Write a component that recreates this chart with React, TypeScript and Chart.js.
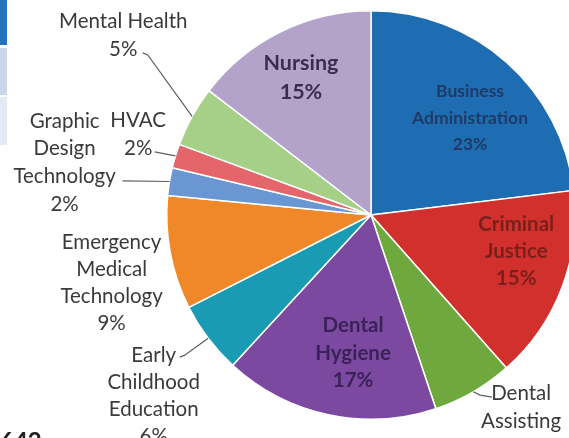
import React, { useEffect, useRef } from "react";
import { Chart, registerables } from "chart.js";

Chart.register(...registerables);

const categories = [
  "Business Administration",
  "Criminal Justice",
  "Dental Assisting",
  "Dental Hygiene",
  "Early Childhood Education",
  "Emergency Medical Technology",
  "Graphic Design Technology",
  "HVAC",
  "Mental Health",
  "Nursing",
];

const shares = [23.1, 15.4, 6.4, 17.0, 5.7, 9.0, 2.2, 1.9, 4.8, 14.6];

const sliceColors = [
  "#1E6DB3",
  "#D2302C",
  "#6FA83C",
  "#7B4AA0",
  "#1A9BB4",
  "#F0882A",
  "#6A97D4",
  "#E4666A",
  "#A6CF88",
  "#B3A2C9",
];

// label layout: block centre and leader points in units of the pie radius, relative to the pie centre
const labelLayout: any[] = [
  { inside: true, fx: 0.485, fy: -0.475, gap: 26.5, size: 17.5, color: "#1F3A66" },
  { inside: true, fx: 0.711, fy: 0.176, gap: 27, size: 20.5, color: "#7A1F1C" },
  { fx: 0.735, fy: 1.01, gap: 28, leader: [[0.593, 0.892], [0.534, 0.882]] },
  { inside: true, fx: -0.088, fy: 0.676, gap: 27.5, size: 20.5, color: "#3A2258" },
  { fx: -1.064, fy: 0.887, gap: 27, leader: [[-0.936, 0.696], [-0.912, 0.686]] },
  { fx: -1.27, fy: 0.333, gap: 27 },
  { fx: -1.5, fy: -0.257, gap: 27.7, leader: [[-1.216, -0.167]] },
  { fx: -1.14, fy: -0.397, gap: 28, leader: [[-1.059, -0.309]] },
  { fx: -1.213, fy: -0.877, gap: 28, oneLine: true, leader: [[-1.118, -0.794], [-1.093, -0.784]] },
  { inside: true, fx: -0.343, fy: -0.674, gap: 29, size: 21.5, color: "#3A2E50" },
];

const labelPlugin = {
  id: "pieLabels",
  afterDatasetsDraw(chart: any) {
    const ctx = chart.ctx;
    const meta = chart.getDatasetMeta(0);
    const data = chart.data.datasets[0].data as number[];
    const total = data.reduce((a, b) => a + b, 0);
    ctx.save();
    meta.data.forEach((arc: any, i: number) => {
      const lay = labelLayout[i];
      const { x, y, startAngle, endAngle, outerRadius } = arc.getProps(
        ["x", "y", "startAngle", "endAngle", "outerRadius"],
        true
      );
      const R = outerRadius;
      const mid = (startAngle + endAngle) / 2;
      const pct = Math.round((data[i] / total) * 100) + "%";
      const name = chart.data.labels[i] as string;
      const lines = (lay.oneLine ? [name] : name.split(" ")).concat([pct]);
      if (lay.leader) {
        ctx.beginPath();
        ctx.strokeStyle = "#5f5f5f";
        ctx.lineWidth = 1.2;
        lay.leader.forEach((p: number[], k: number) => {
          const px = x + p[0] * R;
          const py = y + p[1] * R;
          if (k === 0) ctx.moveTo(px, py);
          else ctx.lineTo(px, py);
        });
        ctx.lineTo(x + Math.cos(mid) * R, y + Math.sin(mid) * R);
        ctx.stroke();
      }
      const bx = x + lay.fx * R;
      const by = y + lay.fy * R;
      ctx.textAlign = "center";
      ctx.textBaseline = "middle";
      ctx.fillStyle = lay.inside ? lay.color : "#3a3a3a";
      ctx.font = lay.inside ? `bold ${lay.size}px Lato` : "20.5px Lato";
      lines.forEach((t: string, k: number) => {
        ctx.fillText(t, bx, by + (k - (lines.length - 1) / 2) * lay.gap);
      });
    });
    ctx.restore();
  },
};

export default function App() {
  const ref = useRef<HTMLCanvasElement | null>(null);
  useEffect(() => {
    document.body.style.margin = "0";
    document.body.style.background = "#ffffff";
    const chart = new Chart(ref.current as HTMLCanvasElement, {
      type: "pie",
      data: {
        labels: categories,
        datasets: [
          {
            data: shares,
            backgroundColor: sliceColors,
            borderColor: "#ffffff",
            borderWidth: 1.5,
          },
        ],
      },
      options: {
        animation: false,
        responsive: false,
        devicePixelRatio: 1,
        layout: { padding: { top: 10, bottom: 18, left: 0, right: 0 } },
        plugins: {
          legend: { display: false },
          tooltip: { enabled: false },
        },
      },
      plugins: [labelPlugin],
    });
    return () => chart.destroy();
  }, []);

  return (
    <div
      style={{
        position: "fixed",
        left: 0,
        top: 0,
        width: 569,
        height: 438,
        overflow: "hidden",
        background: "#ffffff",
      }}
    >
      <div style={{ position: "absolute", left: 0, top: 0, width: 7, height: 45, background: "#2372BE" }} />
      <div style={{ position: "absolute", left: 0, top: 48, width: 7, height: 47, background: "#C9D6EA" }} />
      <div style={{ position: "absolute", left: 0, top: 97, width: 7, height: 48, background: "#E4EAF4" }} />
      <canvas
        ref={ref}
        width={742}
        height={438}
        style={{ position: "absolute", left: 0, top: 0, width: 742, height: 438 }}
      />
      <div
        style={{
          position: "absolute",
          left: 0,
          top: 428,
          fontFamily: "Lato",
          fontWeight: "bold",
          fontSize: 24,
          lineHeight: "26px",
          color: "#222222",
        }}
      >
        642
      </div>
    </div>
  );
}
